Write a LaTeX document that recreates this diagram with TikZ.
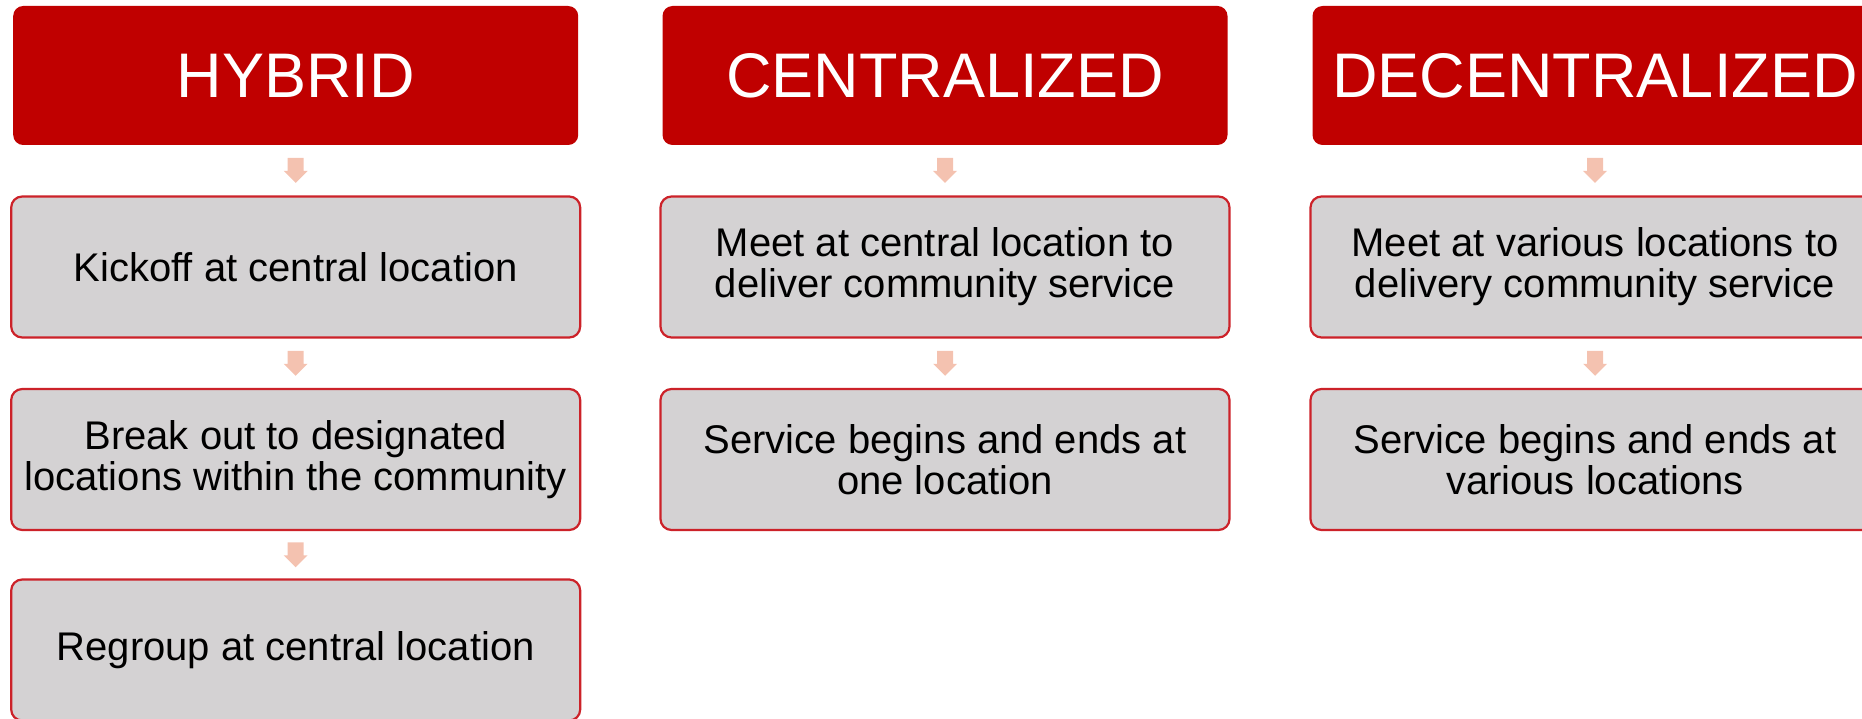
\documentclass[tikz,border=0pt]{standalone}
\usepackage{fontspec}
\setmainfont{Liberation Sans}
\usetikzlibrary{calc}
\definecolor{hdr}{HTML}{C00000}
\definecolor{boxfill}{HTML}{D4D2D3}
\definecolor{boxline}{HTML}{CC2229}
\definecolor{arr}{HTML}{F4C2B0}
\begin{document}
\begin{tikzpicture}[x=1pt,y=-1pt,
  header/.style={fill=hdr, draw=none, rounded corners=10pt, minimum width=565pt, minimum height=139pt,
    inner sep=0pt, text=white, align=center, font=\fontsize{63}{70}\selectfont},
  item/.style={fill=boxfill, draw=boxline, line width=2.2pt, rounded corners=11pt, minimum width=569pt,
    minimum height=141pt, inner sep=0pt, text=black, align=center, font=\fontsize{40}{41}\selectfont},
  downarr/.pic={\fill[arr] (-8,-12.5) -- (8,-12.5) -- (8,0.5) -- (12,0.5) -- (0,12.5) -- (-12,0.5) -- (-8,0.5) -- cycle;}
]
\useasboundingbox (0,0) rectangle (1862,719);
% column 1
\node[header] (h1) at (295.7,75.5) {HYBRID};
\node[item] (a1) at (295.7,267) {Kickoff at central location};
\node[item] (a2) at (295.7,459.5) {Break out to designated\\locations within the community};
\node[item] (a3) at (295.7,650) {Regroup at central location};
% column 2
\node[header] (h2) at (945,75.5) {CENTRALIZED};
\node[item] (b1) at (945,267) {Meet at central location to\\deliver community service};
\node[item] (b2) at (945,459.5) {Service begins and ends at\\one location};
% column 3
\node[header] (h3) at (1595,75.5) {DECENTRALIZED};
\node[item] (c1) at (1595,267) {Meet at various locations to\\delivery community service};
\node[item] (c2) at (1595,459.5) {Service begins and ends at\\various locations};
% arrows
\pic at ($(h1.south)!0.5!(a1.north)$) {downarr};
\pic at ($(a1.south)!0.5!(a2.north)$) {downarr};
\pic at ($(a2.south)!0.5!(a3.north)$) {downarr};
\pic at ($(h2.south)!0.5!(b1.north)$) {downarr};
\pic at ($(b1.south)!0.5!(b2.north)$) {downarr};
\pic at ($(h3.south)!0.5!(c1.north)$) {downarr};
\pic at ($(c1.south)!0.5!(c2.north)$) {downarr};
\end{tikzpicture}
\end{document}
